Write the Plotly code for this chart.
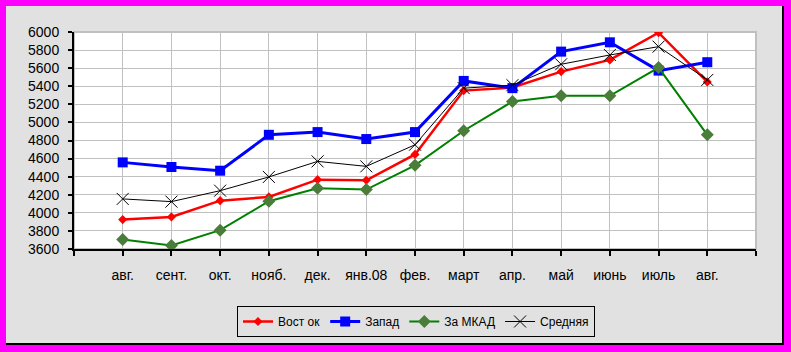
import plotly.graph_objects as go

months = ["авг.", "сент.", "окт.", "нояб.", "дек.", "янв.08", "фев.", "март", "апр.", "май", "июнь", "июль", "авг."]
vostok = [3925, 3955, 4135, 4176, 4367, 4360, 4646, 5352, 5386, 5562, 5691, 5992, 5448]
zapad = [4558, 4507, 4466, 4863, 4893, 4816, 4893, 5459, 5379, 5783, 5886, 5573, 5666]
za_mkad = [3705, 3639, 3808, 4128, 4271, 4257, 4525, 4908, 5231, 5294, 5294, 5606, 4863]
srednyaya = [4154, 4124, 4245, 4397, 4569, 4514, 4753, 5379, 5412, 5643, 5746, 5838, 5470]

x = list(range(len(months)))
FONT = "Liberation Sans, Arial, sans-serif"
GRAY = "#e1e1e1"

W, H = 791, 352
L, R, T, B = 74, 756, 32, 249


def px(v):
    return (v - L) / (R - L)


def py(v):
    return (B - v) / (B - T)


fig = go.Figure()
fig.add_trace(go.Scatter(x=x, y=vostok, name="Вост ок", mode="lines+markers",
                         line=dict(color="#ff0000", width=2.5),
                         marker=dict(symbol="diamond", size=7, color="#ff0000")))
fig.add_trace(go.Scatter(x=x, y=zapad, name="Запад", mode="lines+markers",
                         line=dict(color="#0000ff", width=3),
                         marker=dict(symbol="square", size=10, color="#0000ff")))
fig.add_trace(go.Scatter(x=x, y=za_mkad, name="За МКАД", mode="lines+markers",
                         line=dict(color="#008000", width=2),
                         marker=dict(symbol="diamond", size=10, color="#4b7d3a")))
fig.add_trace(go.Scatter(x=x, y=srednyaya, name="Средняя", mode="lines+markers",
                         line=dict(color="#000000", width=1),
                         marker=dict(symbol="x-thin", size=12, color="#000000",
                                     line=dict(color="#000000", width=1))))

shapes = []
shapes.append(dict(type="rect", xref="paper", yref="paper", x0=0, x1=1, y0=0, y1=1,
                   line=dict(color="#c0c0c0", width=2), layer="below"))
shapes.append(dict(type="rect", xref="paper", yref="paper", x0=px(6), x1=px(784), y0=py(345), y1=py(343),
                   fillcolor="#000000", line=dict(width=0), layer="above"))
shapes.append(dict(type="rect", xref="paper", yref="paper", x0=px(782), x1=px(784), y0=py(345), y1=py(6),
                   fillcolor="#000000", line=dict(width=0), layer="above"))
for (a, b_, c, d) in [(-2, 6, -2, 354), (784, 794, -2, 354), (-2, 794, -2, 6), (-2, 794, 345, 354)]:
    shapes.append(dict(type="rect", xref="paper", yref="paper", x0=px(a), x1=px(b_), y0=py(d), y1=py(c),
                       fillcolor="#ff00ff", line=dict(width=0), layer="above"))

fig.update_layout(
    width=W, height=H,
    margin=dict(l=L, r=W - R, t=T, b=H - B, pad=0),
    paper_bgcolor=GRAY, plot_bgcolor="#ffffff",
    font=dict(family=FONT, size=13, color="#000000"),
    showlegend=True,
    legend=dict(orientation="h", x=px(237), y=py(306), xanchor="left", yanchor="top",
                bgcolor=GRAY, bordercolor="#000000", borderwidth=1,
                font=dict(family=FONT, size=12, color="#000000"),
                itemwidth=30, tracegroupgap=0),
    shapes=shapes,
)
fig.update_xaxes(range=[-1, len(months)], tickmode="array",
                 tickvals=list(range(-1, len(months) + 1)),
                 ticktext=[""] + months + [""],
                 showgrid=True, gridcolor="#c0c0c0", gridwidth=1,
                 showline=True, linecolor="#000000", linewidth=2,
                 ticks="outside", ticklen=5, tickcolor="#000000", tickwidth=1.5,
                 zeroline=False, tickfont=dict(family=FONT, size=14),
                 ticklabelstandoff=7)
fig.update_yaxes(range=[3600, 6000], tick0=3600, dtick=200,
                 showgrid=True, gridcolor="#c0c0c0", gridwidth=1,
                 showline=True, linecolor="#000000", linewidth=2,
                 ticks="outside", ticklen=4, tickcolor="#000000", tickwidth=1.5,
                 zeroline=False, tickfont=dict(family=FONT, size=14),
                 ticklabelstandoff=6)

fig.write_html("out.html")
